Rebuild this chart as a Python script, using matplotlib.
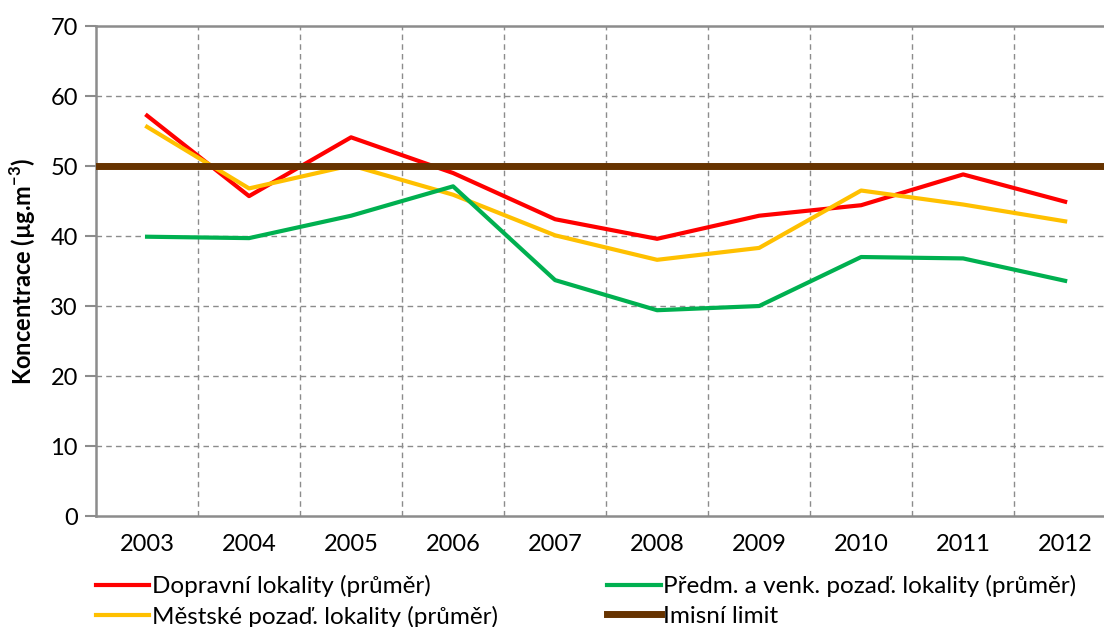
import matplotlib.pyplot as plt
import numpy as np

# hodnoty
roky = ['2003', '2004', '2005', '2006', '2007', '2008', '2009', '2010', '2011', '2012']
doprava = [57.2, 45.7, 54.1, 49.0, 42.4, 39.6, 42.9, 44.4, 48.8, 44.9]
predm_venk = [39.9, 39.7, 42.9, 47.1, 33.7, 29.4, 30.0, 37.0, 36.8, 33.6]
mestske = [55.6, 46.8, 50.1, 45.9, 40.1, 36.6, 38.3, 46.5, 44.5, 42.1]
limit = 50

plt.rcParams['font.family'] = ['Lato', 'DejaVu Sans']
plt.rcParams['mathtext.fontset'] = 'custom'
plt.rcParams['mathtext.rm'] = 'Lato:bold'
plt.rcParams['mathtext.bf'] = 'Lato:bold'

fig = plt.figure(figsize=(11.04, 6.27), dpi=100)
ax = fig.add_axes([0.087, 0.177, 0.924, 0.7815])

x = np.arange(len(roky))
grid_kw = dict(color='#8c8c8c', linestyle=(0, (4, 3)), linewidth=1.0, zorder=0)
for v in range(10, 70, 10):
    ax.axhline(v, **grid_kw)
for b in x[:-1] + 0.5:
    ax.axvline(b, **grid_kw)

l1, = ax.plot(x, doprava, color='#FF0000', lw=3, label='Dopravní lokality (průměr)', zorder=3)
l3, = ax.plot(x, mestske, color='#FFC000', lw=3, label='Městské pozaď. lokality (průměr)', zorder=3)
l2, = ax.plot(x, predm_venk, color='#00B050', lw=3, label='Předm. a venk. pozaď. lokality (průměr)', zorder=3)
l4 = ax.axhline(limit, color='#663300', lw=5, label='Imisní limit', zorder=4)

ax.set_xlim(-0.5, len(roky) - 0.5)
ax.set_ylim(0, 70)
ax.set_yticks(range(0, 71, 10))
ax.set_xticks(x)
ax.set_xticklabels(roky)
ax.tick_params(axis='x', length=0, pad=13, labelsize=17, colors='#000000')
ax.tick_params(axis='y', length=8, width=1.5, color='#8c8c8c', pad=5, labelsize=17)

for s in ['left', 'bottom', 'top']:
    ax.spines[s].set_color('#8c8c8c')
    ax.spines[s].set_linewidth(1.8)
ax.spines['right'].set_visible(False)

ax.set_ylabel(r'Koncentrace (µg.m$^{-3}$)', fontsize=17, fontweight='bold', labelpad=9)

fig.legend(handles=[l1, l3, l2, l4], loc='upper left', bbox_to_anchor=(0.078, 0.098),
           ncol=2, frameon=False, fontsize=17.5, handlelength=2.2, handletextpad=0.1,
           columnspacing=4.5, labelspacing=0.35, borderaxespad=0)

fig.savefig('out.png', dpi=100)
